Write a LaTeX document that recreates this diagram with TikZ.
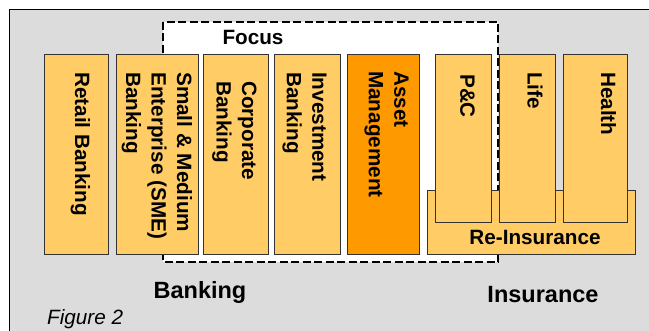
\documentclass[tikz,border=0pt]{standalone}
\usepackage{fontspec}
\setmainfont{Liberation Sans}
\definecolor{panelgrey}{HTML}{DCDCDC}
\definecolor{lightorange}{HTML}{FFCC66}
\definecolor{deeporange}{HTML}{FF9900}

\begin{document}
\begin{tikzpicture}[x=1pt, y=-1pt,
  every node/.style={font=\bfseries\fontsize{20.7}{25.5}\selectfont},
  unit/.style={draw=black!80, line width=0.9pt, fill=lightorange, inner sep=0pt},
  unit text/.style={rotate=-90, anchor=west, align=left, inner sep=0pt},
  group label/.style={font=\bfseries\fontsize{23.5}{28}\selectfont, anchor=base}]

  \useasboundingbox (0,0) rectangle (649,331);
  \clip (0,0) rectangle (649,331);

  %% Background panel
  \fill[panelgrey] (9.5,9.5) rectangle (670,350);
  \draw[line width=1.5pt] (670,9.5) -- (9.5,9.5) -- (9.5,350);

  %% Focus area (dashed)
  \draw[fill=white, line width=2.2pt, dash pattern=on 8pt off 3.5pt] (163,22) rectangle (498,262);
  \node[inner sep=0pt] (focus) at (253,37.5) {Focus};

  %% Banking units
  \node[unit, minimum width=64pt, minimum height=200pt] (retail) at (76,154) {};
  \node[unit text] (retail text) at (80.5,72) {Retail Banking};

  \node[unit, minimum width=82pt, minimum height=200pt] (sme) at (157,154) {};
  \node[unit text] (sme text) at (157,72) {Small \& Medium\\Enterprise (SME)\\Banking};

  \node[unit, minimum width=65pt, minimum height=200pt] (corporate) at (235.5,154) {};
  \node[unit text] (corporate text) at (234.5,81) {Corporate\\Banking};

  \node[unit, minimum width=66pt, minimum height=200pt] (investment) at (307,154) {};
  \node[unit text] (investment text) at (304.5,72) {Investment\\Banking};

  \node[unit, fill=deeporange, minimum width=72pt, minimum height=200pt] (asset) at (383,154) {};
  \node[unit text] (asset text) at (386.5,71) {Asset\\Management};

  %% Insurance units, re-insurance underneath
  \node[unit, minimum width=208pt, minimum height=64pt] (reins) at (531,222) {};
  \node[inner sep=0pt] (reins text) at (535,237.5) {Re-Insurance};

  \node[unit, minimum width=56pt, minimum height=168pt] (pc) at (463,138) {};
  \node[unit text] (pc text) at (467.5,74) {P\&C};

  \node[unit, minimum width=56pt, minimum height=168pt] (life) at (527,138) {};
  \node[unit text] (life text) at (535,72) {Life};

  \node[unit, minimum width=64pt, minimum height=168pt] (health) at (595,138) {};
  \node[unit text] (health text) at (608.5,72) {Health};

  %% Group labels
  \node[group label] (banking) at (200,299) {Banking};
  \node[group label] (insurance) at (543,303) {Insurance};
  \node[font=\mdseries\itshape\fontsize{20.7}{25}\selectfont, anchor=base west, inner sep=0pt] (caption) at (47,325) {Figure 2};

\end{tikzpicture}
\end{document}
